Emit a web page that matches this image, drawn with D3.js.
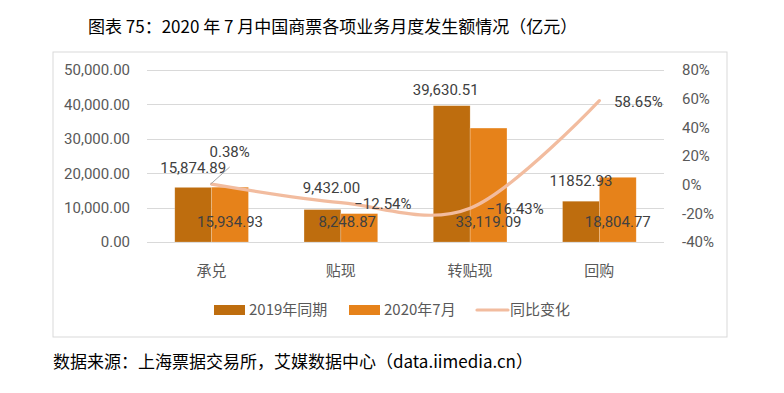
<!DOCTYPE html>
<html>
<head>
<meta charset="utf-8">
<script src="https://cdn.jsdelivr.net/npm/d3@7"></script>
<style>
  body { margin: 0; background: #fff; }
  text { font-family: Roboto, "Noto Sans CJK SC", sans-serif; }
  .cjk { font-family: "Liberation Sans Narrow", "Noto Sans CJK SC", sans-serif; }
</style>
</head>
<body>
<script>
// data
const categories = ["承兑", "贴现", "转贴现", "回购"];
const values2019 = [15874.89, 9432.00, 39630.51, 11852.93];
const values2020 = [15934.93, 8248.87, 33119.09, 18804.77];
const yoyChange = [0.38, -12.54, -16.43, 58.65];
const labels2019 = ["15,874.89", "9,432.00", "39,630.51", "11852.93"];
const leftTicks = [0, 10000, 20000, 30000, 40000, 50000];
const rightTicks = [-40, -20, 0, 20, 40, 60, 80];
const seriesNames = ["2019年同期", "2020年7月", "同比变化"];

const colorDark = "#BE6D0E", colorLight = "#E6821A", colorLine = "#F2BC9F";
const textColor = "#595959";

// label nudges (dx, dy) for the data labels
const off2019 = [[0, -14], [9, -17], [-6, -11], [0, -15]];
const off2020 = [0, -12, 0, 0];
const offPct = [[18, -27], [42, 6], [45, 6], [39, 6]];

const width = 784, height = 393;
const svg = d3.select("body").append("svg")
    .attr("width", width)
    .attr("height", height);

svg.append("text")
    .attr("class", "cjk")
    .attr("x", 88).attr("y", 33)
    .attr("font-size", 17)
    .attr("fill", "#000")
    .text("图表 75：2020 年 7 月中国商票各项业务月度发生额情况（亿元）");

svg.append("rect")
    .attr("x", 53).attr("y", 52)
    .attr("width", 674).attr("height", 285)
    .attr("fill", "none")
    .attr("stroke", "#d9d9d9");

const plot = {left: 147, right: 664, top: 70, bottom: 242};

const x0 = d3.scaleBand().domain(categories)
    .range([plot.left, plot.right])
    .paddingInner(0.43).paddingOuter(0.215);
const x1 = d3.scaleBand().domain([0, 1]).range([0, x0.bandwidth()]);
const yL = d3.scaleLinear().domain([0, 50000]).range([plot.bottom, plot.top]);
const yR = d3.scaleLinear().domain([-40, 80]).range([plot.bottom, plot.top]);

// gridlines
svg.append("g").selectAll("line")
  .data(leftTicks)
  .join("line")
    .attr("x1", plot.left).attr("x2", plot.right)
    .attr("y1", d => Math.round(yL(d)) + 0.5).attr("y2", d => Math.round(yL(d)) + 0.5)
    .attr("stroke", "#d9d9d9").attr("stroke-width", 1);

// left axis
const axL = svg.append("g")
    .attr("transform", `translate(${plot.left - 17},0)`)
    .call(d3.axisLeft(yL).tickValues(leftTicks).tickFormat(d3.format(",.2f")).tickSize(0).tickPadding(0));
axL.select(".domain").remove();
axL.selectAll("text").attr("font-size", 15).attr("fill", textColor)
    .attr("font-family", "Roboto, sans-serif");

// right axis
const axR = svg.append("g")
    .attr("transform", `translate(${plot.right + 18},0)`)
    .call(d3.axisRight(yR).tickValues(rightTicks).tickFormat(d => d + "%").tickSize(0).tickPadding(0));
axR.select(".domain").remove();
axR.selectAll("text").attr("font-size", 15).attr("fill", textColor)
    .attr("font-family", "Roboto, sans-serif");

// category labels
svg.append("g").selectAll("text")
  .data(categories)
  .join("text")
    .attr("class", "cjk")
    .attr("x", d => x0(d) + x0.bandwidth() / 2)
    .attr("y", 276)
    .attr("text-anchor", "middle")
    .attr("font-size", 15)
    .attr("fill", textColor)
    .text(d => d);

// bars
const groups = svg.append("g").selectAll("g")
  .data(categories.map((c, i) => ({c, v: [values2019[i], values2020[i]]})))
  .join("g")
    .attr("transform", d => `translate(${x0(d.c)},0)`);

groups.selectAll("rect")
  .data(d => d.v)
  .join("rect")
    .attr("x", (d, i) => x1(i))
    .attr("y", d => yL(d))
    .attr("width", x1.bandwidth())
    .attr("height", d => yL(0) - yL(d))
    .attr("fill", (d, i) => i === 0 ? colorDark : colorLight)
    .attr("stroke", "#fff").attr("stroke-opacity", 0.35).attr("stroke-width", 0.6);

// yoy line
const linePts = categories.map((c, i) => [x0(c) + x0.bandwidth() / 2, yR(yoyChange[i])]);
svg.append("path")
    .attr("d", d3.line().curve(d3.curveCatmullRom.alpha(0))(linePts))
    .attr("fill", "none")
    .attr("stroke", colorLine)
    .attr("stroke-width", 3.2)
    .attr("stroke-linecap", "round");

// leader line for first label
svg.append("line")
    .attr("x1", linePts[0][0] - 1).attr("y1", linePts[0][1])
    .attr("x2", linePts[0][0] + 18).attr("y2", linePts[0][1] - 17)
    .attr("stroke", "#a6a6a6").attr("stroke-width", 1);

const labelG = svg.append("g")
    .attr("font-size", 15)
    .attr("fill", "#404040")
    .attr("text-anchor", "middle");

categories.forEach((c, i) => {
  const cx2019 = x0(c) + x1(0) + x1.bandwidth() / 2;
  const cx2020 = x0(c) + x1(1) + x1.bandwidth() / 2;
  labelG.append("text")
      .attr("x", cx2019 + off2019[i][0])
      .attr("y", yL(values2019[i]) + off2019[i][1])
      .text(labels2019[i]);
  labelG.append("text")
      .attr("x", cx2020 + off2020[i])
      .attr("y", yL(0) - 15)
      .text(d3.format(",.2f")(values2020[i]));
  labelG.append("text")
      .attr("x", linePts[i][0] + offPct[i][0])
      .attr("y", linePts[i][1] + offPct[i][1])
      .text(d3.format(".2f")(yoyChange[i]) + "%");
});

// legend
const legend = svg.append("g").attr("font-size", 15).attr("fill", textColor);
const legX = [214, 349, 475];
[colorDark, colorLight].forEach((col, i) => {
  legend.append("rect")
      .attr("x", legX[i]).attr("y", 305)
      .attr("width", 31).attr("height", 10)
      .attr("fill", col);
});
legend.append("line")
    .attr("x1", legX[2] + 2).attr("x2", legX[2] + 33)
    .attr("y1", 310).attr("y2", 310)
    .attr("stroke", colorLine).attr("stroke-width", 3.2)
    .attr("stroke-linecap", "round");
seriesNames.forEach((n, i) => {
  legend.append("text")
      .attr("class", "cjk")
      .attr("x", legX[i] + 35).attr("y", 315)
      .text(n);
});

svg.append("text")
    .attr("class", "cjk")
    .attr("x", 53).attr("y", 368)
    .attr("font-size", 17)
    .attr("fill", "#000")
    .text("数据来源：上海票据交易所，艾媒数据中心（data.iimedia.cn）");
</script>
</body>
</html>
